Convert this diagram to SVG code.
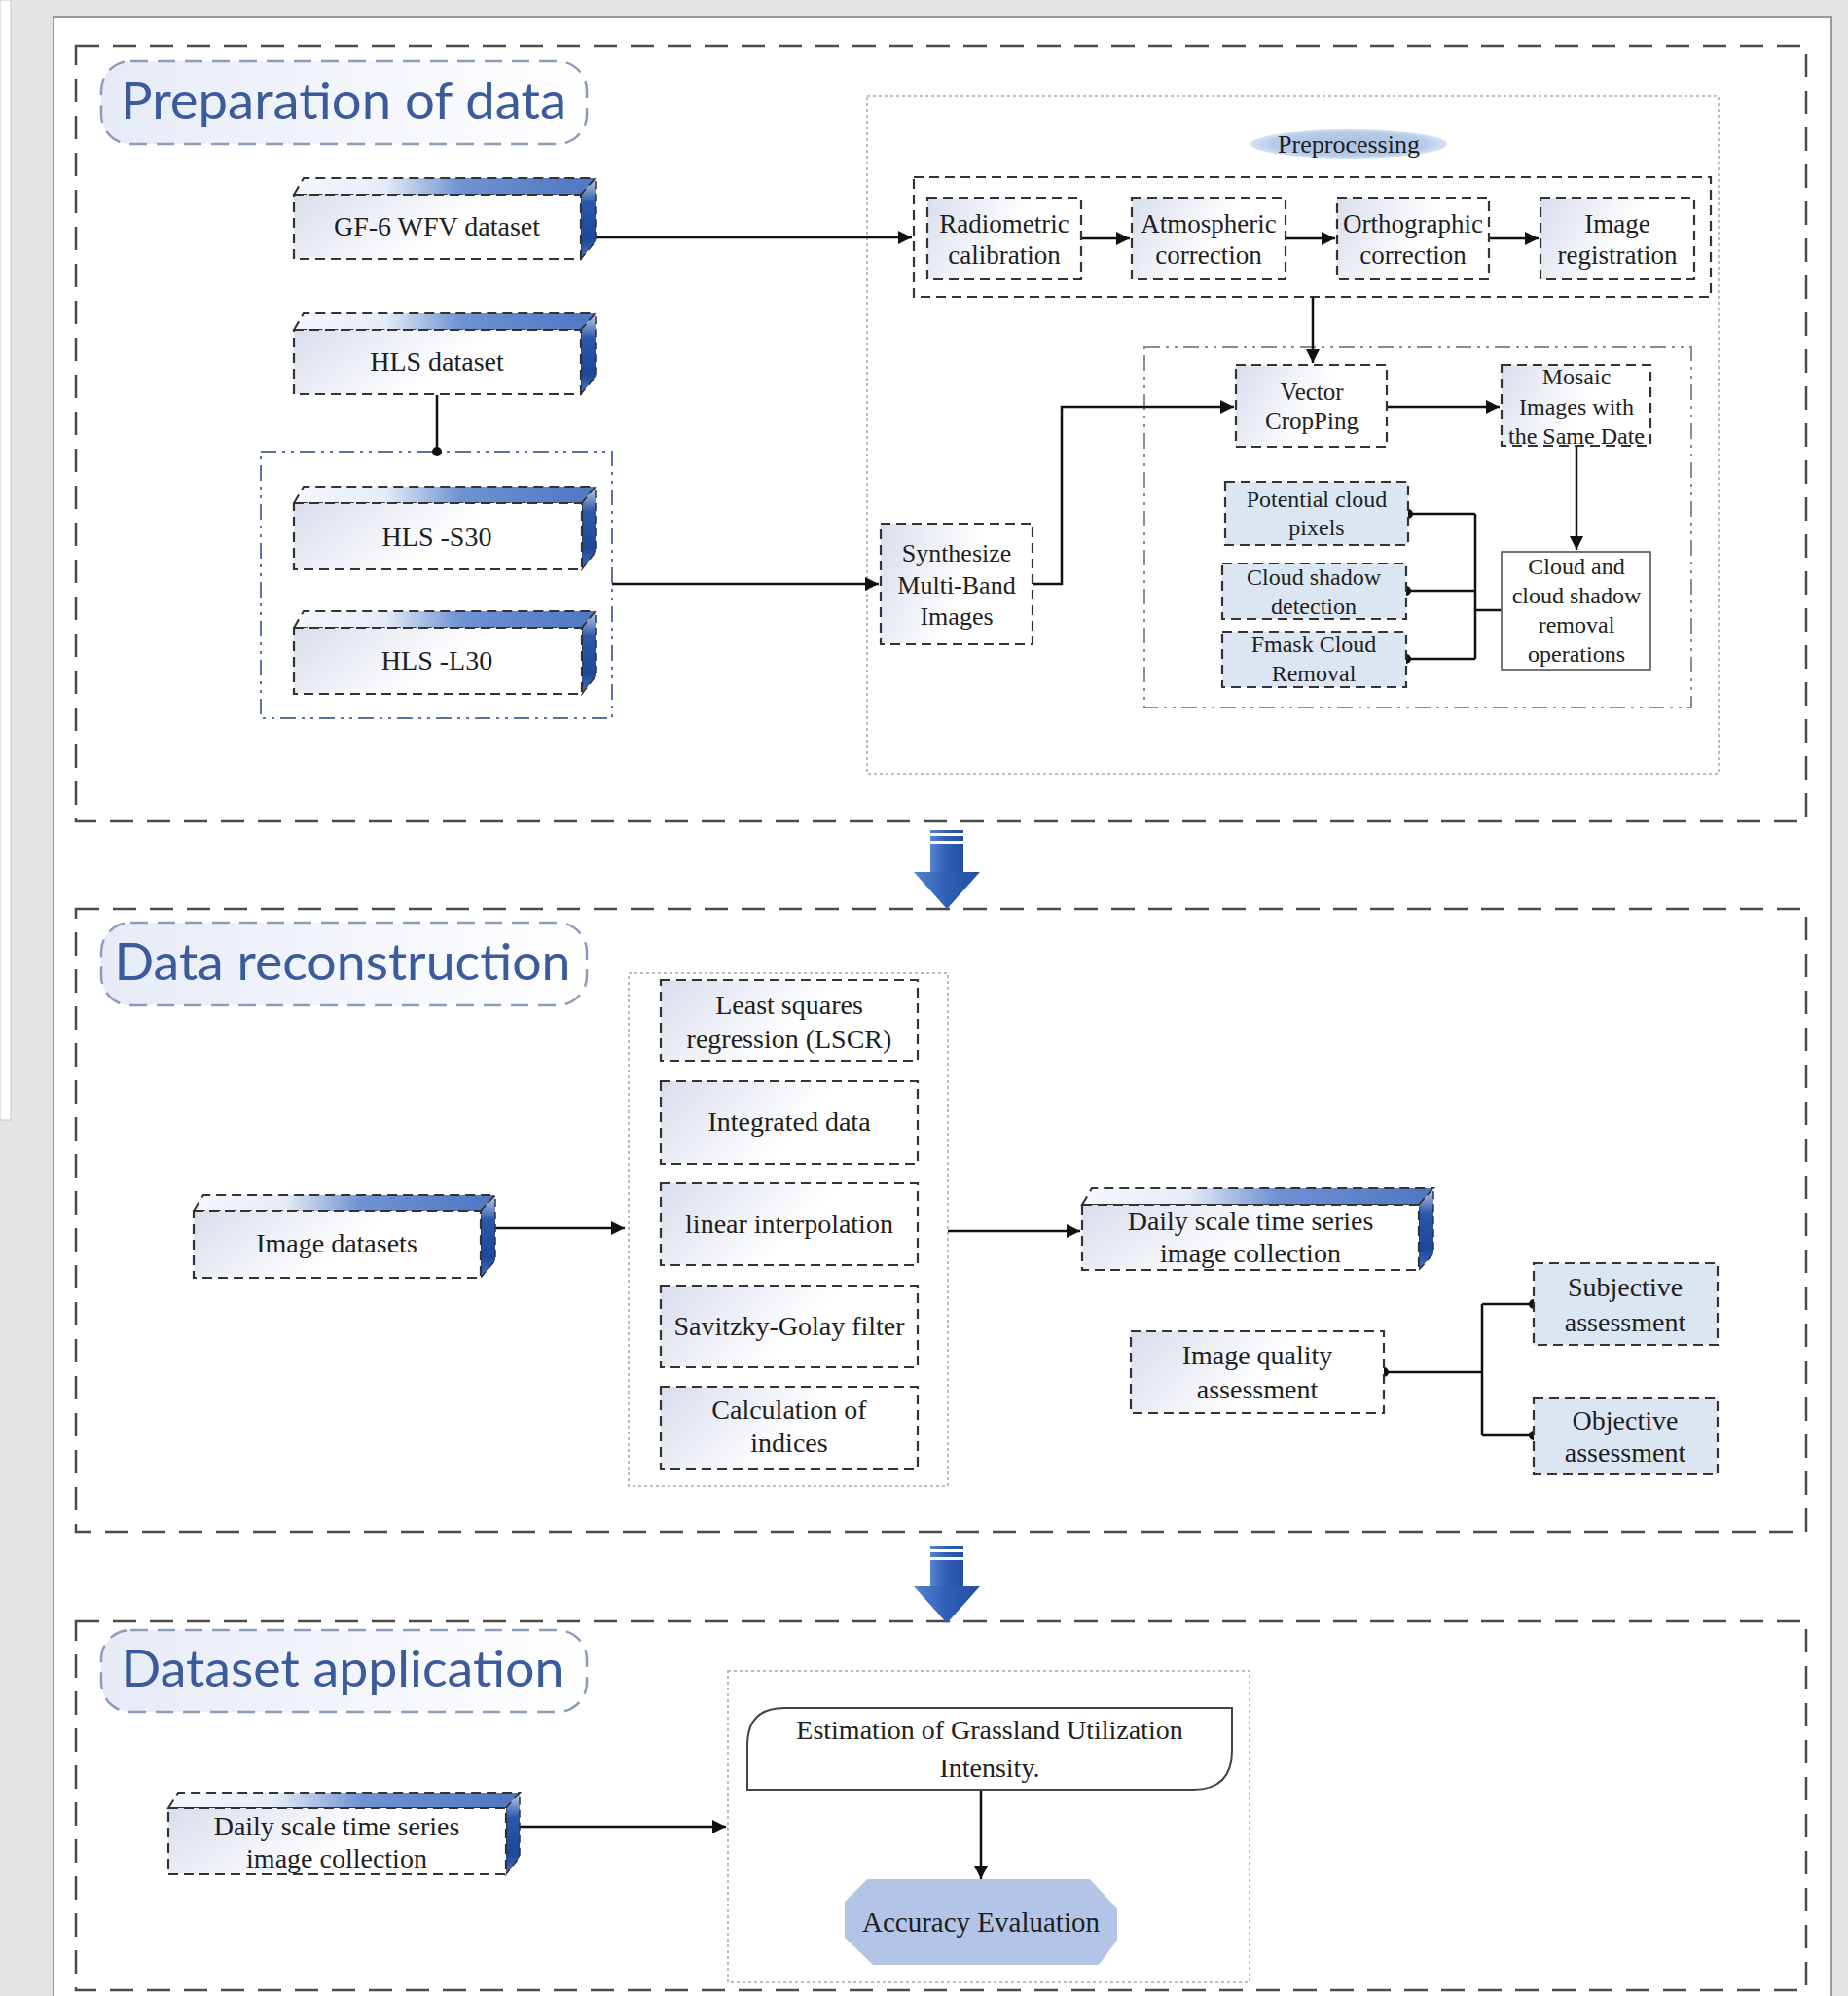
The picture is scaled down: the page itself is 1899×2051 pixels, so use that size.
<svg xmlns="http://www.w3.org/2000/svg" width="1899" height="2051" viewBox="0 0 1899 2051">
<defs>
<style>
.t{font-family:"Liberation Serif","Times New Roman",serif;fill:#1e1e1e;text-anchor:middle}
.f24{font-size:24px}.f25{font-size:25px}.f26{font-size:26px}.f27{font-size:27px}.f28{font-size:28px}.f29{font-size:29px}
.ttl{font-family:Lato,"Noto Sans",sans-serif;font-size:52px;fill:#3c5b9c;text-anchor:middle}
.sec{fill:none;stroke:#4a4a4a;stroke-width:2.5;stroke-dasharray:24 14}
.tbox{fill:url(#gTitle);stroke:#8d9cbc;stroke-width:2.5;stroke-dasharray:18 10}
.nb{stroke:#333;stroke-width:2.2;stroke-dasharray:10 6}
.pl{fill:url(#gFront)}
.bl{fill:#dce6f2}
.top{fill:url(#gTop);stroke:#333;stroke-width:2;stroke-dasharray:10 6}
.side{fill:url(#gSide);stroke:#333;stroke-width:1.5;stroke-dasharray:8 5}
.dot{fill:none;stroke:#a8a8a8;stroke-width:1.5;stroke-dasharray:3 3}
.dd{fill:none;stroke-width:2;stroke-dasharray:16 6 3 6 3 6}
.ln{fill:none;stroke:#111;stroke-width:2.5}
.bigarr{fill:url(#gArr)}
</style>
<linearGradient id="gFront" x1="0" y1="0" x2="1" y2="0.3">
<stop offset="0" stop-color="#d9deec"/><stop offset="0.65" stop-color="#ffffff"/><stop offset="1" stop-color="#ffffff"/>
</linearGradient>
<linearGradient id="gTop" x1="0" y1="0" x2="1" y2="0">
<stop offset="0" stop-color="#f5f7fc"/><stop offset="0.3" stop-color="#e6ecf7"/><stop offset="0.55" stop-color="#6f92d2"/><stop offset="1" stop-color="#4e76c2"/>
</linearGradient>
<linearGradient id="gSide" x1="0" y1="0" x2="0" y2="1">
<stop offset="0" stop-color="#c9d3e8"/><stop offset="0.3" stop-color="#2c58aa"/><stop offset="0.75" stop-color="#1d4898"/><stop offset="1" stop-color="#4a72bd"/>
</linearGradient>
<linearGradient id="gTitle" x1="0" y1="0" x2="1" y2="0">
<stop offset="0" stop-color="#e6ebf6"/><stop offset="0.7" stop-color="#f8f9fd"/><stop offset="1" stop-color="#ffffff"/>
</linearGradient>
<linearGradient id="gArr" x1="0" y1="0" x2="1" y2="0">
<stop offset="0" stop-color="#5584d0"/><stop offset="0.5" stop-color="#2f5eb6"/><stop offset="1" stop-color="#264fa0"/>
</linearGradient>
<radialGradient id="gEll" cx="0.5" cy="0.5" r="0.5">
<stop offset="0" stop-color="#a9c2e6"/><stop offset="0.8" stop-color="#b7cbe9"/><stop offset="1" stop-color="#d6e2f3"/>
</radialGradient>
<marker id="arr" viewBox="0 0 10 10" refX="10" refY="5" markerWidth="16" markerHeight="14" markerUnits="userSpaceOnUse" orient="auto">
<path d="M0,0 L10,5 L0,10 z" fill="#111"/>
</marker>
</defs>

<rect x="0" y="0" width="1899" height="2051" fill="#e4e4e4"/>
<rect x="0" y="0" width="11" height="1151" fill="#ffffff" stroke="#c8c8c8" stroke-width="1"/>
<rect x="55" y="17" width="1827" height="2040" fill="#ffffff" stroke="#9a9a9a" stroke-width="2"/>

<g id="sections">
<rect class="sec" x="78" y="47" width="1778" height="797"/>
<rect class="sec" x="78" y="934" width="1778" height="640"/>
<rect class="sec" x="78" y="1666" width="1778" height="379"/>
</g>

<g id="big-arrows">
<rect class="bigarr" x="956" y="853" width="34" height="3"/>
<rect class="bigarr" x="956" y="859" width="34" height="5"/>
<rect class="bigarr" x="956" y="867" width="34" height="30"/>
<polygon class="bigarr" points="939,896 1007,896 973,934"/>
<rect class="bigarr" x="956" y="1589" width="34" height="3"/>
<rect class="bigarr" x="956" y="1595" width="34" height="5"/>
<rect class="bigarr" x="956" y="1603" width="34" height="28"/>
<polygon class="bigarr" points="939,1630 1007,1630 973,1668"/>
</g>

<g id="titles">
<g id="title-prep"><rect class="tbox" x="104" y="63" width="499" height="85" rx="30"/><text class="ttl" x="353" y="122" textLength="458" lengthAdjust="spacingAndGlyphs">Preparation of data</text></g>
<g id="title-recon"><rect class="tbox" x="104" y="948" width="499" height="85" rx="30"/><text class="ttl" x="352" y="1007" textLength="469" lengthAdjust="spacingAndGlyphs">Data reconstruction</text></g>
<g id="title-app"><rect class="tbox" x="104" y="1675" width="499" height="84" rx="30"/><text class="ttl" x="352" y="1733" textLength="455" lengthAdjust="spacingAndGlyphs">Dataset application</text></g>
</g>

<g id="containers">
<rect class="dot" x="891" y="99" width="875" height="696"/>
<rect fill="none" stroke="#333" stroke-width="2.2" stroke-dasharray="10 6" x="939" y="182" width="819" height="123"/>
<rect class="dd" stroke="#8c8c8c" x="1176" y="357" width="562" height="370"/>
<rect class="dd" stroke="#5d72a0" x="268" y="464" width="361" height="274"/>
<rect class="dot" x="646" y="1000" width="328" height="527"/>
<rect class="dot" x="748" y="1717" width="536" height="320"/>
</g>

<g id="connectors">
<path class="ln" d="M612,244 H937" marker-end="url(#arr)"/>
<path class="ln" d="M1111,245 H1161" marker-end="url(#arr)"/>
<path class="ln" d="M1321,245 H1372" marker-end="url(#arr)"/>
<path class="ln" d="M1530,245 H1581" marker-end="url(#arr)"/>
<path class="ln" d="M1349,305 V373" marker-end="url(#arr)"/>
<path class="ln" d="M449,406 V464"/>
<circle cx="449" cy="464" r="5" fill="#111"/>
<path class="ln" d="M629,600 H903" marker-end="url(#arr)"/>
<path class="ln" d="M1061,600 H1091 V418 H1268" marker-end="url(#arr)"/>
<path class="ln" d="M1425,418 H1541" marker-end="url(#arr)"/>
<path class="ln" d="M1620,458 V565" marker-end="url(#arr)"/>
<path class="ln" d="M1447,528 H1516 M1445,607 H1516 M1445,677 H1516 M1516,528 V677"/>
<path class="ln" d="M1516,627 H1543" stroke-width="4"/>
<circle cx="1447" cy="528" r="5" fill="#111"/>
<circle cx="1445" cy="607" r="5" fill="#111"/>
<circle cx="1445" cy="677" r="5" fill="#111"/>
<path class="ln" d="M509,1262 H642" marker-end="url(#arr)"/>
<path class="ln" d="M974,1265 H1110" marker-end="url(#arr)"/>
<path class="ln" d="M1422,1410 H1523 M1523,1340 V1475 M1523,1340 H1576 M1523,1475 H1576"/>
<circle cx="1422" cy="1410" r="5" fill="#111"/>
<circle cx="1576" cy="1340" r="5" fill="#111"/>
<circle cx="1576" cy="1475" r="5" fill="#111"/>
<path class="ln" d="M534,1877 H746" marker-end="url(#arr)"/>
<path class="ln" d="M1008,1839 V1931" marker-end="url(#arr)"/>
</g>

<g id="n-gf6">
<path class="top" d="M302,200 L312,183 H612 L597,200 Z"/>
<path class="side" d="M597,200 L612,183 V248 L597,266 Z"/>
<rect class="nb pl" x="302" y="200" width="295" height="66"/>
<text class="t f28" x="449" y="242">GF-6 WFV dataset</text>
</g>
<g id="n-hls">
<path class="top" d="M302,339 L312,322 H612 L597,339 Z"/>
<path class="side" d="M597,339 L612,322 V387 L597,405 Z"/>
<rect class="nb pl" x="302" y="339" width="295" height="66"/>
<text class="t f28" x="449" y="381">HLS dataset</text>
</g>
<g id="n-s30">
<path class="top" d="M302,517 L312,500 H612 L598,517 Z"/>
<path class="side" d="M598,517 L612,500 V567 L598,585 Z"/>
<rect class="nb pl" x="302" y="517" width="296" height="68"/>
<text class="t f28" x="449" y="561">HLS -S30</text>
</g>
<g id="n-l30">
<path class="top" d="M302,645 L312,628 H612 L598,645 Z"/>
<path class="side" d="M598,645 L612,628 V695 L598,713 Z"/>
<rect class="nb pl" x="302" y="645" width="296" height="68"/>
<text class="t f28" x="449" y="688">HLS -L30</text>
</g>
<g id="n-synth">
<rect class="nb pl" x="905" y="538" width="156" height="124"/>
<text class="t f26" x="983" y="577">Synthesize</text>
<text class="t f26" x="983" y="610">Multi-Band</text>
<text class="t f26" x="983" y="642">Images</text>
</g>
<g id="n-preproc">
<ellipse cx="1386" cy="148" rx="101" ry="15" fill="url(#gEll)"/>
<text class="t f26" x="1386" y="157" fill="#1f2d4a">Preprocessing</text>
</g>
<g id="n-radio">
<rect class="nb pl" x="953" y="203" width="158" height="84"/>
<text class="t f27" x="1032" y="239">Radiometric</text>
<text class="t f27" x="1032" y="271">calibration</text>
</g>
<g id="n-atmo">
<rect class="nb pl" x="1163" y="203" width="158" height="84"/>
<text class="t f27" x="1242" y="239">Atmospheric</text>
<text class="t f27" x="1242" y="271">correction</text>
</g>
<g id="n-ortho">
<rect class="nb pl" x="1374" y="203" width="156" height="84"/>
<text class="t f27" x="1452" y="239">Orthographic</text>
<text class="t f27" x="1452" y="271">correction</text>
</g>
<g id="n-reg">
<rect class="nb pl" x="1583" y="203" width="158" height="84"/>
<text class="t f27" x="1662" y="239">Image</text>
<text class="t f27" x="1662" y="271">registration</text>
</g>
<g id="n-vector">
<rect class="nb pl" x="1270" y="375" width="155" height="84"/>
<text class="t f25" x="1348" y="411">Vector</text>
<text class="t f25" x="1348" y="441">CropPing</text>
</g>
<g id="n-mosaic">
<rect class="nb pl" x="1543" y="375" width="153" height="83"/>
<text class="t f24" x="1620" y="395">Mosaic</text>
<text class="t f24" x="1620" y="426">Images with</text>
<text class="t f24" x="1620" y="456">the Same Date</text>
</g>
<g id="n-cloudrm">
<rect x="1543" y="567" width="153" height="121" fill="#ffffff" stroke="#666" stroke-width="1.8"/>
<text class="t f24" x="1620" y="590">Cloud and</text>
<text class="t f24" x="1620" y="620">cloud shadow</text>
<text class="t f24" x="1620" y="650">removal</text>
<text class="t f24" x="1620" y="680">operations</text>
</g>
<g id="n-potential">
<rect class="nb bl" x="1259" y="495" width="188" height="65"/>
<text class="t f24" x="1353" y="521">Potential cloud</text>
<text class="t f24" x="1353" y="550">pixels</text>
</g>
<g id="n-shadow">
<rect class="nb bl" x="1256" y="579" width="189" height="57"/>
<text class="t f24" x="1350" y="601">Cloud shadow</text>
<text class="t f24" x="1350" y="631">detection</text>
</g>
<g id="n-fmask">
<rect class="nb bl" x="1256" y="649" width="189" height="57"/>
<text class="t f24" x="1350" y="670">Fmask Cloud</text>
<text class="t f24" x="1350" y="700">Removal</text>
</g>

<g id="n-imgds">
<path class="top" d="M199,1244 L209,1228 H509 L494,1244 Z"/>
<path class="side" d="M494,1244 L509,1228 V1295 L494,1313 Z"/>
<rect class="nb pl" x="199" y="1244" width="295" height="69"/>
<text class="t f28" x="346" y="1287">Image datasets</text>
</g>
<g id="n-lscr">
<rect class="nb pl" x="679" y="1007" width="264" height="83"/>
<text class="t f28" x="811" y="1042">Least squares</text>
<text class="t f28" x="811" y="1077">regression (LSCR)</text>
</g>
<g id="n-integ">
<rect class="nb pl" x="679" y="1111" width="264" height="85"/>
<text class="t f28" x="811" y="1162">Integrated data</text>
</g>
<g id="n-linear">
<rect class="nb pl" x="679" y="1216" width="264" height="84"/>
<text class="t f28" x="811" y="1267">linear interpolation</text>
</g>
<g id="n-sg">
<rect class="nb pl" x="679" y="1321" width="264" height="84"/>
<text class="t f28" x="811" y="1372">Savitzky-Golay filter</text>
</g>
<g id="n-calc">
<rect class="nb pl" x="679" y="1425" width="264" height="84"/>
<text class="t f28" x="811" y="1458">Calculation of</text>
<text class="t f28" x="811" y="1492">indices</text>
</g>
<g id="n-daily1">
<path class="top" d="M1112,1238 L1122,1221 H1473 L1458,1238 Z"/>
<path class="side" d="M1458,1238 L1473,1221 V1288 L1458,1305 Z"/>
<rect class="nb pl" x="1112" y="1238" width="346" height="67"/>
<text class="t f28" x="1285" y="1264">Daily scale time series</text>
<text class="t f28" x="1285" y="1297">image collection</text>
</g>
<g id="n-iqa">
<rect class="nb pl" x="1162" y="1368" width="260" height="84"/>
<text class="t f28" x="1292" y="1402">Image quality</text>
<text class="t f28" x="1292" y="1437">assessment</text>
</g>
<g id="n-subj">
<rect class="nb bl" x="1576" y="1298" width="189" height="84"/>
<text class="t f28" x="1670" y="1332">Subjective</text>
<text class="t f28" x="1670" y="1368">assessment</text>
</g>
<g id="n-obj">
<rect class="nb bl" x="1576" y="1437" width="189" height="78"/>
<text class="t f28" x="1670" y="1469">Objective</text>
<text class="t f28" x="1670" y="1502">assessment</text>
</g>

<g id="n-daily2">
<path class="top" d="M173,1858 L183,1842 H534 L520,1858 Z"/>
<path class="side" d="M520,1858 L534,1842 V1908 L520,1926 Z"/>
<rect class="nb pl" x="173" y="1858" width="347" height="68"/>
<text class="t f28" x="346" y="1886">Daily scale time series</text>
<text class="t f28" x="346" y="1919">image collection</text>
</g>
<g id="n-estim">
<path d="M768,1839 V1793 Q768,1755 806,1755 H1266 V1799 Q1266,1839 1226,1839 Z" fill="#ffffff" stroke="#444" stroke-width="2"/>
<text class="t f28" x="1017" y="1787">Estimation of Grassland Utilization</text>
<text class="t f28" x="1017" y="1826">Intensity.</text>
</g>
<g id="n-acc">
<path d="M892,1933 H1119 L1146,1962 V1993 L1128,2017 H898 L870,1990 V1955 Z" fill="#b3c5e6" stroke="#b3c5e6" stroke-width="4" stroke-linejoin="round"/>
<text class="t f29" x="1008" y="1985" fill="#1c2a48">Accuracy Evaluation</text>
</g>
</svg>
